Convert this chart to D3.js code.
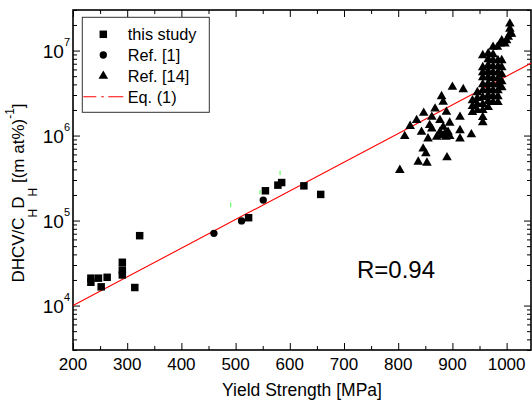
<!DOCTYPE html>
<html>
<head>
<meta charset="utf-8">
<script src="https://cdn.jsdelivr.net/npm/d3@7"></script>
<style>
  body { margin: 0; background: #fff; }
  svg { display: block; font-family: "Liberation Sans", Arial, sans-serif; }
</style>
</head>
<body>
<div id="chart"></div>
<script>
// yield strength [MPa], DHCV/(C_H D_H)
const thisStudy = [
  [233, 2.1e4], [233, 1.88e4], [247, 2.1e4], [252, 1.66e4], [263, 2.15e4],
  [291, 3.23e4], [291, 2.62e4], [291, 2.29e4], [314, 1.63e4], [323, 6.64e4],
  [524, 1.08e5], [555, 2.24e5], [578, 2.61e5], [585, 2.8e5], [626, 2.56e5],
  [657, 2.03e5],
];
const ref1 = [[460, 7.08e4], [511, 9.9e4], [551, 1.74e5]];
const ref14 = [
  // scattered part
  [803, 3.92e5], [812, 9.8e5], [822, 1.29e6], [834, 1.51e6], [837, 4.9e5],
  [843, 1.10e6], [846, 7.0e5], [847, 1.84e6], [851, 6.15e5], [853, 4.77e5],
  [855, 9.2e5], [858, 1.32e6], [862, 1.65e6], [862, 1.2e6], [868, 2.07e6],
  [871, 9.6e5], [877, 1.51e6], [877, 1.10e6], [880, 2.89e6], [880, 1.0e6],
  [883, 2.48e6], [883, 1.26e6], [886, 1.05e6], [888, 9.6e5], [889, 1.89e6],
  [890, 5.52e5], [892, 1.10e6], [895, 1.41e6], [895, 9.8e5], [900, 3.72e6],
  [914, 1.65e6], [914, 1.15e6], [914, 9.2e5], [920, 3.49e6], [935, 1.03e6],
  // dense part near 950-1010 MPa
  [937, 2.59e6], [937, 2.21e6], [937, 1.88e6],
  [946, 3.22e6], [946, 2.74e6], [946, 2.33e6], [946, 1.98e6],
  [956, 8.77e6], [956, 6.34e6], [956, 5.53e6], [956, 4.83e6], [956, 4.0e6],
  [956, 3.4e6], [956, 2.82e6], [956, 2.33e6], [956, 1.98e6], [956, 1.64e6],
  [956, 1.43e6],
  [966, 9.25e6], [966, 7.87e6], [966, 6.69e6], [966, 5.69e6], [966, 4.83e6],
  [966, 4.11e6], [966, 3.49e6], [966, 2.97e6], [966, 2.53e6], [966, 2.15e6],
  [975, 1.1e7], [975, 9.0e6], [975, 7.66e6], [975, 6.5e6], [975, 5.53e6],
  [975, 4.71e6], [975, 4.0e6], [975, 3.4e6], [975, 2.89e6], [975, 2.46e6],
  [984, 7.66e6], [984, 6.5e6], [984, 5.53e6], [984, 4.71e6], [984, 4.0e6],
  [984, 3.4e6], [984, 2.89e6], [984, 2.46e6],
  [991, 7.66e6], [991, 6.34e6], [991, 5.25e6], [991, 4.34e6], [991, 3.69e6],
  [983, 1.1e7], [988, 1.2e7], [991, 1.31e7], [997, 1.2e7], [1000, 1.31e7],
  [1003, 1.44e7], [1006, 1.57e7], [1009, 1.57e7], [1006, 1.8e7], [1006, 2.07e7],
];
// Eq. (1) end points
const eqLine = [[200, 1.0e4], [1045, 7.1e6]];
// small green error bars: x, low, high
const errBars = [[491, 1.43e5, 1.62e5], [545, 2.05e5, 2.28e5], [582, 3.42e5, 3.85e5]];

const xTicks = [200, 300, 400, 500, 600, 700, 800, 900, 1000];
const xMinorTicks = [250, 350, 450, 550, 650, 750, 850, 950];
const yTicks = [1e4, 1e5, 1e6, 1e7];
const yMinorTicks = [
  3e3, 4e3, 5e3, 6e3, 7e3, 8e3, 9e3,
  2e4, 3e4, 4e4, 5e4, 6e4, 7e4, 8e4, 9e4,
  2e5, 3e5, 4e5, 5e5, 6e5, 7e5, 8e5, 9e5,
  2e6, 3e6, 4e6, 5e6, 6e6, 7e6, 8e6, 9e6,
  2e7, 3e7,
];
const legendLabels = ["this study", "Ref. [1]", "Ref. [14]", "Eq. (1)"];

const width = 532, height = 405;
const plot = { left: 73, right: 531, top: 10, bottom: 350 };

const svg = d3.select("#chart").append("svg")
  .attr("width", width).attr("height", height);

const x = d3.scaleLinear().domain([200, 1045]).range([plot.left, plot.right]);
const y = d3.scaleLog().domain([3e3, 3e7]).range([plot.bottom, plot.top]);

// ticks (inward, all four sides)
function tickAxis(axisFn, scale, vals, size, tr) {
  svg.append("g")
    .attr("transform", tr)
    .call(axisFn(scale).tickValues(vals).tickSizeInner(-size).tickSizeOuter(0).tickFormat(""))
    .call((g) => g.select(".domain").remove())
    .call((g) => g.selectAll("line").attr("stroke", "#000").attr("stroke-width", 1));
}
tickAxis(d3.axisBottom, x, xTicks, 7, `translate(0,${plot.bottom})`);
tickAxis(d3.axisBottom, x, xMinorTicks, 4, `translate(0,${plot.bottom})`);
tickAxis(d3.axisTop, x, xTicks, 7, `translate(0,${plot.top})`);
tickAxis(d3.axisTop, x, xMinorTicks, 4, `translate(0,${plot.top})`);
tickAxis(d3.axisLeft, y, yTicks, 7, `translate(${plot.left},0)`);
tickAxis(d3.axisLeft, y, yMinorTicks, 4, `translate(${plot.left},0)`);
tickAxis(d3.axisRight, y, yTicks, 7, `translate(${plot.right},0)`);
tickAxis(d3.axisRight, y, yMinorTicks, 4, `translate(${plot.right},0)`);

// frame
svg.append("rect")
  .attr("x", plot.left).attr("y", plot.top)
  .attr("width", plot.right - plot.left).attr("height", plot.bottom - plot.top)
  .attr("fill", "none").attr("stroke", "#000").attr("stroke-width", 1.6);

// tick labels
svg.append("g").selectAll("text").data(xTicks).join("text")
  .attr("x", (d) => x(d)).attr("y", 370)
  .attr("text-anchor", "middle").style("font-size", "17px")
  .text((d) => d);

const yLab = svg.append("g").selectAll("text").data(yTicks).join("text")
  .attr("x", 70).attr("y", (d) => y(d) + 7.5)
  .attr("text-anchor", "end");
yLab.append("tspan").style("font-size", "19px").text("10");
yLab.append("tspan").style("font-size", "11px").attr("dy", -12)
  .text((d) => Math.round(Math.log10(d)));

// axis titles
svg.append("text")
  .attr("x", (plot.left + plot.right) / 2).attr("y", 396)
  .attr("text-anchor", "middle").style("font-size", "17.5px")
  .text("Yield Strength [MPa]");

const yt = svg.append("text")
  .attr("transform", "translate(24,193) rotate(-90)")
  .attr("text-anchor", "middle").style("font-size", "17px");
yt.append("tspan").text("DHCV/C");
yt.append("tspan").attr("dy", 13).style("font-size", "12px").text("H");
yt.append("tspan").attr("dy", -13).text("D");
yt.append("tspan").attr("dy", 13).style("font-size", "12px").text("H");
yt.append("tspan").attr("dy", -13).text(" [(m at%)");
yt.append("tspan").attr("dy", -10).style("font-size", "12px").text("-1");
yt.append("tspan").attr("dy", 10).text("]");

// Eq. (1)
svg.append("path")
  .datum(eqLine)
  .attr("fill", "none").attr("stroke", "#ff0000").attr("stroke-width", 1.1)
  .attr("d", d3.line().x((d) => x(d[0])).y((d) => y(d[1])));

// green error bars
svg.append("g").selectAll("line").data(errBars).join("line")
  .attr("x1", (d) => x(d[0])).attr("x2", (d) => x(d[0]))
  .attr("y1", (d) => y(d[1])).attr("y2", (d) => y(d[2]))
  .attr("stroke", "#44ff44").attr("stroke-width", 1);

// markers
const symSquare = d3.symbol().type(d3.symbolSquare).size(56);
const symCircle = d3.symbol().type(d3.symbolCircle).size(42);
const symTri = d3.symbol().type(d3.symbolTriangle).size(40);

function drawPoints(data, sym) {
  svg.append("g").selectAll("path").data(data).join("path")
    .attr("transform", (d) => `translate(${x(d[0])},${y(d[1])})`)
    .attr("d", sym)
    .attr("fill", "#000");
}
drawPoints(ref14, symTri);
drawPoints(ref1, symCircle);
drawPoints(thisStudy, symSquare);

// legend
const lg = svg.append("g");
lg.append("rect")
  .attr("x", 82.3).attr("y", 17.3).attr("width", 127).attr("height", 95)
  .attr("fill", "#fff").attr("stroke", "#333").attr("stroke-width", 1);
const rowY = [34.3, 55, 76, 96.7];
const legendSyms = [symSquare, symCircle, symTri];
legendSyms.forEach((s, i) => {
  lg.append("path")
    .attr("transform", `translate(103.3,${rowY[i]})`)
    .attr("d", s).attr("fill", "#000");
});
lg.append("line")
  .attr("x1", 83.3).attr("x2", 123.3).attr("y1", rowY[3]).attr("y2", rowY[3])
  .attr("stroke", "#ff0000").attr("stroke-width", 1.1)
  .attr("stroke-dasharray", "13,5,2.5,4.5,15,100");
lg.selectAll("text").data(legendLabels).join("text")
  .attr("x", 127.7).attr("y", (d, i) => rowY[i] + 6)
  .style("font-size", "16.3px")
  .text((d) => d);

// correlation
svg.append("text")
  .attr("x", 357).attr("y", 278)
  .style("font-size", "24px")
  .text("R=0.94");
</script>
</body>
</html>
